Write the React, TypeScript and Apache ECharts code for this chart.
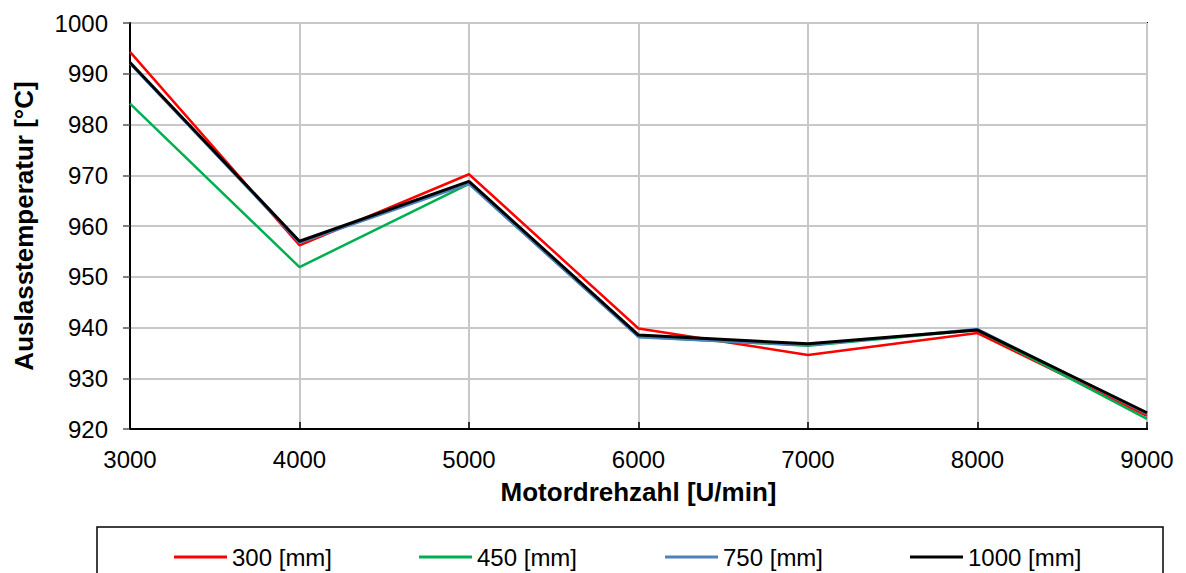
import React, { useEffect, useRef } from "react";
import * as echarts from "echarts";

const rpm = [3000, 4000, 5000, 6000, 7000, 8000, 9000];
const seriesNames = ["300 [mm]", "450 [mm]", "750 [mm]", "1000 [mm]"];
const seriesColors = ["#FF0000", "#00B050", "#4F81BD", "#000000"];
const s300 = [994.3, 956.2, 970.2, 939.8, 934.6, 938.9, 922.6];
const s450 = [984.1, 951.9, 968.3, 938.2, 936.4, 939.5, 922.0];
const s750 = [992.0, 956.7, 968.3, 938.1, 936.5, 939.7, 923.0];
const s1000 = [992.2, 957.0, 968.8, 938.5, 936.8, 939.5, 923.2];
const seriesValues = [s300, s450, s750, s1000];
const legendLefts = [169, 414, 660, 905];

export default function App() {
  const ref = useRef<HTMLDivElement>(null);
  useEffect(() => {
    const chart = echarts.init(ref.current!, undefined, { renderer: "svg" });
    const font = "Liberation Sans, Arial, sans-serif";
    chart.setOption({
      animation: false,
      backgroundColor: "#ffffff",
      textStyle: { fontFamily: font },
      grid: {
        left: 130,
        right: 39,
        top: 23,
        bottom: 144,
        show: true,
        borderColor: "#000000",
        borderWidth: 2,
        backgroundColor: "transparent",
      },
      xAxis: {
        type: "value",
        min: 3000,
        max: 9000,
        interval: 1000,
        name: "Motordrehzahl [U/min]",
        nameLocation: "middle",
        nameGap: 50,
        nameTextStyle: { fontSize: 26, fontWeight: "bold", color: "#000", fontFamily: font },
        axisLine: { show: true, lineStyle: { color: "#000", width: 2 } },
        axisTick: { show: true, inside: true, length: 7, lineStyle: { color: "#000", width: 1.5 } },
        axisLabel: { fontSize: 24, color: "#000", margin: 18, fontFamily: font, formatter: (v: number) => String(v) },
        splitLine: { show: true, lineStyle: { color: "#C8C8C8", width: 2 } },
      },
      yAxis: {
        type: "value",
        min: 920,
        max: 1000,
        interval: 10,
        name: "Auslasstemperatur [°C]",
        nameLocation: "middle",
        nameGap: 93,
        nameTextStyle: { fontSize: 26, fontWeight: "bold", color: "#000", fontFamily: font },
        axisLine: { show: true, lineStyle: { color: "#000", width: 2 } },
        axisTick: { show: true, inside: false, length: 7, lineStyle: { color: "#555", width: 1.5 } },
        axisLabel: { fontSize: 24, color: "#000", margin: 22, fontFamily: font, formatter: (v: number) => String(v) },
        splitLine: { show: true, lineStyle: { color: "#C8C8C8", width: 2 } },
      },
      legend: seriesNames.map((n, i) => ({
        data: [n],
        left: legendLefts[i],
        top: 540,
        icon: "rect",
        itemWidth: 53,
        itemHeight: 3,
        textStyle: { fontSize: 24, color: "#000", fontFamily: font },
        selectedMode: false,
      })),
      graphic: [
        {
          type: "rect",
          shape: { x: 97, y: 527, width: 1066, height: 80 },
          style: { fill: "none", stroke: "#000", lineWidth: 1.5 },
          z: -1,
        },
      ],
      series: seriesNames.map((n, i) => ({
        name: n,
        type: "line",
        data: rpm.map((x, j) => [x, seriesValues[i][j]]),
        symbol: "none",
        lineStyle: { color: seriesColors[i], width: i === 3 ? 3 : 2.5 },
        itemStyle: { color: seriesColors[i] },
        z: 2 + i,
      })),
    });
    return () => chart.dispose();
  }, []);
  return (
    <div
      ref={ref}
      style={{ position: "fixed", left: 0, top: 0, width: 1186, height: 573 }}
    />
  );
}
